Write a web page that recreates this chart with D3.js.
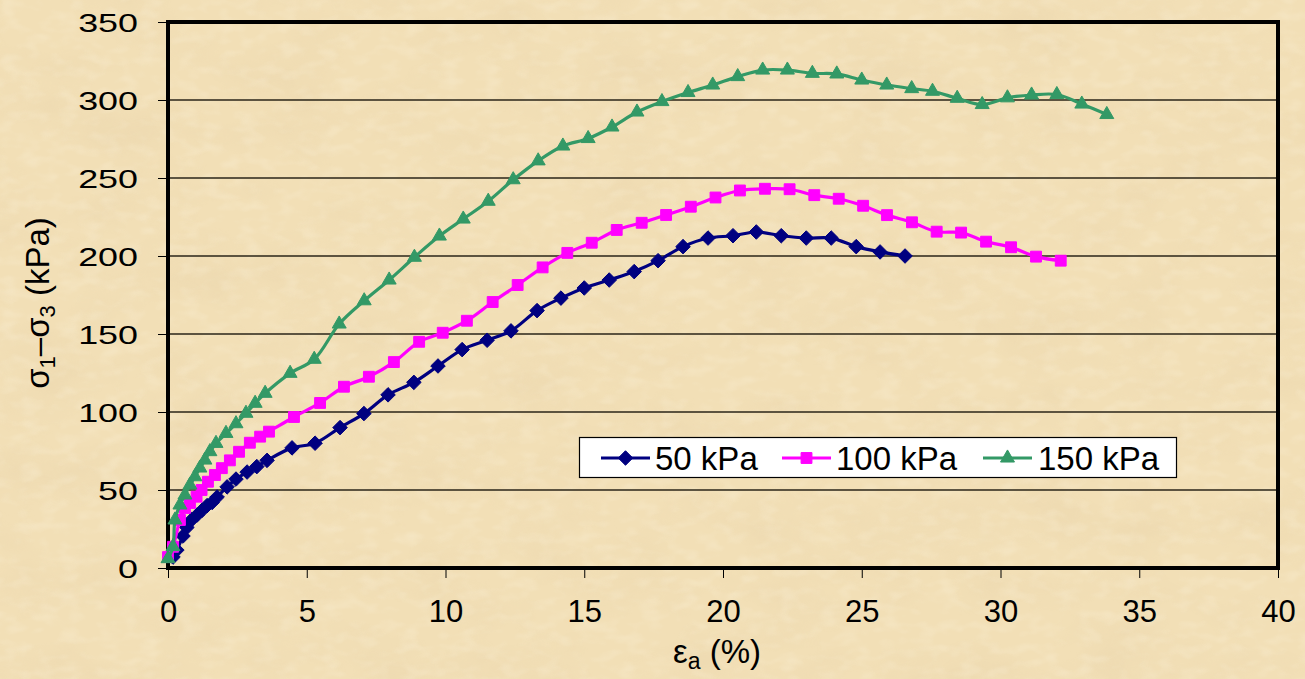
<!DOCTYPE html>
<html>
<head>
<meta charset="utf-8">
<script src="https://cdn.jsdelivr.net/npm/d3@7/dist/d3.min.js"></script>
<style>
  html, body { margin: 0; padding: 0; background: #efdab0; }
  svg { display: block; }
  text { font-family: "Liberation Sans", Arial, sans-serif; fill: #000; }
</style>
</head>
<body>
<svg id="chart" width="1305" height="679"></svg>
<script>
// Axial strain (%) and deviator stress (kPa) for three confining pressures
const strain50 = [0.18, 0.32, 0.54, 0.68, 0.86, 1.05, 1.23, 1.41, 1.59, 1.77, 2.13, 2.45, 2.85, 3.2, 3.57, 4.47, 5.3, 6.2, 7.06, 7.93, 8.86, 9.73, 10.6, 11.5, 12.36, 13.3, 14.16, 15.0, 15.9, 16.8, 17.66, 18.56, 19.46, 20.36, 21.2, 22.1, 23.0, 23.9, 24.8, 25.66, 26.56];
const stress50 = [7, 11.5, 20.5, 26, 31, 34, 37, 40, 42, 45.5, 52, 57, 61.5, 65, 69, 77, 80, 90, 99, 111, 119, 129.5, 140, 146, 152, 165, 173, 179.5, 184.6, 190, 197, 206, 211.5, 213, 215.4, 213, 211.5, 211.5, 206, 202.6, 200];

const strain100 = [0, 0.18, 0.43, 0.61, 0.79, 1.03, 1.21, 1.44, 1.69, 1.94, 2.23, 2.56, 2.95, 3.32, 3.64, 4.54, 5.48, 6.34, 7.24, 8.14, 9.05, 9.9, 10.77, 11.7, 12.6, 13.5, 14.39, 15.27, 16.17, 17.07, 17.95, 18.84, 19.73, 20.61, 21.51, 22.4, 23.29, 24.17, 25.05, 25.91, 26.81, 27.7, 28.58, 29.48, 30.38, 31.28, 32.17];
const stress100 = [7, 13.6, 30.8, 38.5, 41.7, 45.7, 50, 55.3, 59.6, 64, 69, 74.5, 80.3, 84.2, 87.4, 96.8, 105.8, 116.2, 122.6, 132, 145, 150.8, 158.5, 170.5, 181.4, 192.7, 202, 208.5, 216.7, 221.3, 226.3, 231.6, 237.5, 242, 243.1, 242.8, 239, 236.7, 232.2, 226.2, 221.6, 215.6, 215, 209.2, 205.6, 199.6, 197];

const strain150 = [0, 0.18, 0.25, 0.43, 0.61, 0.79, 0.97, 1.15, 1.33, 1.51, 1.73, 2.09, 2.45, 2.81, 3.14, 3.5, 4.4, 5.27, 6.17, 7.07, 7.97, 8.88, 9.78, 10.64, 11.54, 12.44, 13.34, 14.23, 15.14, 16.0, 16.9, 17.8, 18.74, 19.63, 20.53, 21.43, 22.32, 23.22, 24.1, 25.0, 25.9, 26.8, 27.55, 28.44, 29.34, 30.25, 31.12, 32.03, 32.93, 33.83];
const stress150 = [6, 13.7, 30.8, 40.4, 46.8, 53.2, 58.5, 64.1, 69.2, 74.6, 79.9, 86.3, 92.5, 99.2, 105.6, 112, 124.8, 133.8, 156.4, 171.3, 184.6, 199.2, 212.8, 223.7, 235.1, 248.9, 261, 270.5, 275.3, 282.7, 292.3, 299, 304.8, 309.6, 315, 319.2, 319.2, 317.1, 316.7, 312.8, 309.6, 307.3, 305.6, 301.1, 297.1, 301.4, 303.2, 303.5, 297.4, 290.7];

const seriesNames = ["50 kPa", "100 kPa", "150 kPa"];
const xTicks = [0, 5, 10, 15, 20, 25, 30, 35, 40];
const yTicks = [0, 50, 100, 150, 200, 250, 300, 350];

const series = [
  { name: seriesNames[0], x: strain50, y: stress50, color: "#000080", marker: d3.symbolDiamond2, size: 135 },
  { name: seriesNames[1], x: strain100, y: stress100, color: "#ff00ff", marker: d3.symbolSquare2, size: 150 },
  { name: seriesNames[2], x: strain150, y: stress150, color: "#339966", marker: d3.symbolTriangle2, size: 140 }
];

const svg = d3.select("#chart");
const W = 1305, H = 679;
const plot = { left: 168, right: 1278, top: 22, bottom: 568 };

const x = d3.scaleLinear().domain([0, 40]).range([plot.left, plot.right]);
const y = d3.scaleLinear().domain([0, 350]).range([plot.bottom, plot.top]);

// Parchment background
const defs = svg.append("defs");
const f = defs.append("filter").attr("id", "paper").attr("x", 0).attr("y", 0).attr("width", 1).attr("height", 1);
f.append("feTurbulence").attr("type", "fractalNoise").attr("baseFrequency", "0.012 0.02").attr("numOctaves", 4).attr("seed", 7).attr("result", "n");
f.append("feColorMatrix").attr("in", "n").attr("type", "matrix")
  .attr("values", "0 0 0 0 0.78  0 0 0 0 0.62  0 0 0 0 0.38  0 0 -1.1 0 0.62");
const f2 = defs.append("filter").attr("id", "paper2").attr("x", 0).attr("y", 0).attr("width", 1).attr("height", 1);
f2.append("feTurbulence").attr("type", "fractalNoise").attr("baseFrequency", "0.05 0.09").attr("numOctaves", 2).attr("seed", 3).attr("result", "n");
f2.append("feColorMatrix").attr("in", "n").attr("type", "matrix")
  .attr("values", "0 0 0 0 1  0 0 0 0 0.97  0 0 0 0 0.86  0 0 -0.9 0 0.5");

svg.append("rect").attr("width", W).attr("height", H).attr("fill", "#f2dfb6");
svg.append("rect").attr("width", W).attr("height", H).attr("filter", "url(#paper)").attr("opacity", 0.5);
svg.append("rect").attr("width", W).attr("height", H).attr("filter", "url(#paper2)").attr("opacity", 0.5);

// Horizontal gridlines
svg.append("g")
  .selectAll("line")
  .data(yTicks.filter(v => v > 0 && v < 350))
  .join("line")
  .attr("x1", plot.left).attr("x2", plot.right)
  .attr("y1", d => y(d)).attr("y2", d => y(d))
  .attr("stroke", "#2a2418").attr("stroke-width", 1.3);

// Axes
const xAxis = svg.append("g")
  .attr("transform", `translate(0,${plot.bottom})`)
  .call(d3.axisBottom(x).tickValues(xTicks).tickSize(10).tickPadding(20).tickFormat(d3.format("d")));
xAxis.select(".domain").remove();
xAxis.selectAll(".tick line").attr("stroke", "#000").attr("stroke-width", 1);
xAxis.selectAll(".tick text").attr("font-size", 31).attr("dy", "0.71em").attr("y", 32)
  .attr("font-family", "Liberation Sans, Arial, sans-serif");

const yAxis = svg.append("g")
  .attr("transform", `translate(${plot.left},0)`)
  .call(d3.axisLeft(y).tickValues(yTicks).tickSize(10).tickPadding(0).tickFormat(d3.format("d")));
yAxis.select(".domain").remove();
yAxis.selectAll(".tick line").attr("stroke", "#000").attr("stroke-width", 1);
yAxis.selectAll(".tick text")
  .attr("font-size", 26)
  .attr("font-family", "Liberation Sans, Arial, sans-serif")
  .attr("x", 0).attr("dy", "0.36em")
  .attr("text-anchor", "end")
  .attr("transform", "translate(-30,0) scale(1.38,1)");

// Plot frame
svg.append("rect")
  .attr("x", plot.left).attr("y", plot.top)
  .attr("width", plot.right - plot.left).attr("height", plot.bottom - plot.top)
  .attr("fill", "none").attr("stroke", "#000").attr("stroke-width", 4);

// Series lines and markers
const line = d3.line().curve(d3.curveCatmullRom.alpha(0.5));
series.forEach(s => {
  const pts = s.x.map((v, i) => [x(v), y(s.y[i])]);
  svg.append("path")
    .attr("d", line(pts))
    .attr("fill", "none")
    .attr("stroke", s.color)
    .attr("stroke-width", 3.2)
    .attr("stroke-linejoin", "round");
  const sym = d3.symbol().type(s.marker).size(s.size);
  svg.append("g").selectAll("path")
    .data(pts)
    .join("path")
    .attr("transform", d => `translate(${d[0]},${d[1]})`)
    .attr("d", sym())
    .attr("fill", s.color)
    .attr("stroke", s.color)
    .attr("stroke-width", 1);
});

// Legend
const lg = svg.append("g");
lg.append("rect")
  .attr("x", 579.5).attr("y", 437.5).attr("width", 597).attr("height", 40)
  .attr("fill", "#fff").attr("stroke", "#000").attr("stroke-width", 1.2);
const legendPos = [
  { x1: 601, x2: 650, tx: 655 },
  { x1: 782, x2: 831, tx: 836 },
  { x1: 983, x2: 1032, tx: 1038 }
];
series.forEach((s, i) => {
  const p = legendPos[i];
  const cy = 458;
  lg.append("line").attr("x1", p.x1).attr("x2", p.x2).attr("y1", cy).attr("y2", cy)
    .attr("stroke", s.color).attr("stroke-width", 3.2);
  lg.append("path")
    .attr("transform", `translate(${(p.x1 + p.x2) / 2},${cy})`)
    .attr("d", d3.symbol().type(s.marker).size(s.size)())
    .attr("fill", s.color).attr("stroke", s.color);
  lg.append("text").attr("x", p.tx).attr("y", cy + 12)
    .attr("font-size", 33).text(s.name);
});

// Axis titles
const xt = svg.append("text")
  .attr("x", 717).attr("y", 663)
  .attr("text-anchor", "middle").attr("font-size", 33);
xt.append("tspan").text("ε");
xt.append("tspan").attr("font-size", 23).attr("dy", 6).text("a");
xt.append("tspan").attr("dy", -6).text(" (%)");

const yt = svg.append("text")
  .attr("transform", "translate(49,303) rotate(-90)")
  .attr("text-anchor", "middle").attr("font-size", 33);
yt.append("tspan").text("σ");
yt.append("tspan").attr("font-size", 22).attr("dy", 6).text("1");
yt.append("tspan").attr("dy", -6).text("–σ");
yt.append("tspan").attr("font-size", 22).attr("dy", 6).text("3");
yt.append("tspan").attr("dy", -6).text(" (kPa)");
</script>
</body>
</html>
